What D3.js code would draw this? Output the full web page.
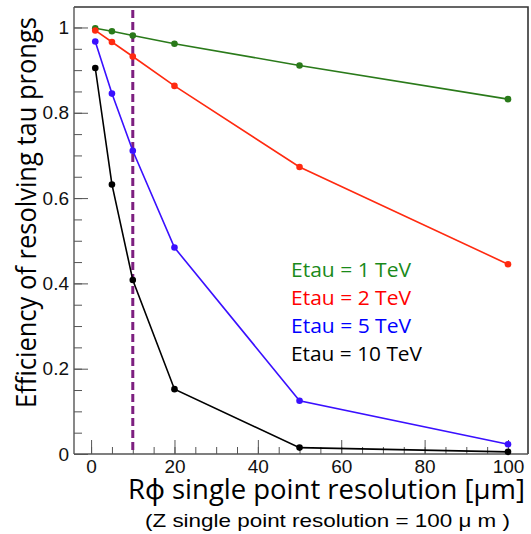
<!DOCTYPE html>
<html>
<head>
<meta charset="utf-8">
<script src="https://cdn.jsdelivr.net/npm/d3@7"></script>
<style>
  body { margin: 0; background: #fff; }
  svg { display: block; }
  .axis text { font-family: "Liberation Sans", Arial, sans-serif; font-size: 19px; fill: #111; }
  .axis path, .axis line { stroke: #555; }
</style>
</head>
<body>
<svg id="chart" width="531" height="534"></svg>
<script>
// resolution in R-phi (um)
const resolutions = [1, 5, 10, 20, 50, 100];

// efficiency per tau energy
const eff1TeV  = [0.998, 0.991, 0.981, 0.962, 0.911, 0.832];
const eff2TeV  = [0.993, 0.966, 0.932, 0.863, 0.673, 0.445];
const eff5TeV  = [0.967, 0.845, 0.711, 0.484, 0.125, 0.023];
const eff10TeV = [0.905, 0.632, 0.408, 0.152, 0.015, 0.005];

const seriesNames = ["Etau = 1 TeV", "Etau = 2 TeV", "Etau = 5 TeV", "Etau = 10 TeV"];
const lineColors  = ["#2a7a1a", "#ff2a10", "#3a10ff", "#000000"];
const textColors  = ["#1a8a1a", "#ff0000", "#0000ff", "#000000"];

const xTicks = [0, 20, 40, 60, 80, 100];
const yTicks = [0, 0.2, 0.4, 0.6, 0.8, 1];
const cutValue = 10;

const svg = d3.select("#chart");
const frame = {left: 74, right: 528, top: 7, bottom: 454};

const x = d3.scaleLinear().domain([-4.1, 104.8]).range([frame.left, frame.right]);
const y = d3.scaleLinear().domain([0, 1.048]).range([frame.bottom, frame.top]);

// frame (top + right)
svg.append("path")
    .attr("d", `M${frame.left},${frame.top}H${frame.right}V${frame.bottom}`)
    .attr("fill", "none")
    .attr("stroke", "#333")
    .attr("stroke-width", 1.6);

// minor ticks (no labels)
svg.append("g")
    .attr("class", "axis")
    .attr("transform", `translate(0,${frame.bottom})`)
    .call(d3.axisBottom(x).tickValues(d3.range(0, 101, 5)).tickSize(-7).tickSizeOuter(0))
    .call(g => { g.select(".domain").remove(); g.selectAll("text").remove(); });
svg.append("g")
    .attr("class", "axis")
    .attr("transform", `translate(${frame.left},0)`)
    .call(d3.axisLeft(y).tickValues(d3.range(0, 21).map(d => d * 0.05)).tickSize(-8).tickSizeOuter(0))
    .call(g => { g.select(".domain").remove(); g.selectAll("text").remove(); });

// major ticks + labels
svg.append("g")
    .attr("class", "axis")
    .attr("transform", `translate(0,${frame.bottom})`)
    .call(d3.axisBottom(x).tickValues(xTicks).tickSize(-14).tickSizeOuter(0).tickPadding(6))
    .call(g => g.select(".domain").attr("d", `M${frame.left},0H${frame.right}`).attr("stroke", "#444").attr("stroke-width", 1.4));
svg.append("g")
    .attr("class", "axis")
    .attr("transform", `translate(${frame.left},0)`)
    .call(d3.axisLeft(y).tickValues(yTicks).tickSize(-14).tickSizeOuter(0).tickPadding(5).tickFormat(d3.format("")))
    .call(g => g.select(".domain").attr("d", `M0,${frame.top}V${frame.bottom}`).attr("stroke", "#444").attr("stroke-width", 1.4));

// dashed cut line
svg.append("line")
    .attr("x1", x(cutValue)).attr("x2", x(cutValue))
    .attr("y1", 10).attr("y2", frame.bottom)
    .attr("stroke", "#7d1f80")
    .attr("stroke-width", 3)
    .attr("stroke-dasharray", "8,4");

// series
const allSeries = [eff1TeV, eff2TeV, eff5TeV, eff10TeV];
const line = d3.line().x((d, i) => x(resolutions[i])).y(d => y(d));

allSeries.forEach((vals, k) => {
    const g = svg.append("g");
    g.append("path")
        .attr("d", line(vals))
        .attr("fill", "none")
        .attr("stroke", lineColors[k])
        .attr("stroke-width", 1.6);
    g.selectAll("circle")
        .data(vals)
        .join("circle")
        .attr("cx", (d, i) => x(resolutions[i]))
        .attr("cy", d => y(d))
        .attr("r", 3.3)
        .attr("fill", lineColors[k]);
});

// legend
const legendFont = '"Open Sans", "Noto Sans", sans-serif';
seriesNames.forEach((name, k) => {
    svg.append("text")
        .attr("x", 291)
        .attr("y", 277 + k * 28)
        .attr("font-family", legendFont)
        .attr("font-size", 19.5)
        .attr("fill", textColors[k])
        .attr("textLength", k === 3 ? 131 : 120)
        .attr("lengthAdjust", "spacingAndGlyphs")
        .text(name);
});

// axis titles
svg.append("text")
    .attr("x", 128)
    .attr("y", 499)
    .attr("font-family", legendFont)
    .attr("font-size", 27)
    .attr("fill", "#000")
    .attr("textLength", 397)
    .attr("lengthAdjust", "spacingAndGlyphs")
    .text("Rϕ single point resolution [μm]");

svg.append("text")
    .attr("x", 145)
    .attr("y", 527)
    .attr("font-family", '"Liberation Sans", Arial, sans-serif')
    .attr("font-size", 18.5)
    .attr("fill", "#000")
    .attr("textLength", 365)
    .attr("lengthAdjust", "spacingAndGlyphs")
    .text("(Z single point resolution = 100 μ m )");

svg.append("text")
    .attr("transform", "translate(36,408) rotate(-90)")
    .attr("font-family", legendFont)
    .attr("font-size", 27)
    .attr("fill", "#000")
    .attr("textLength", 391)
    .attr("lengthAdjust", "spacingAndGlyphs")
    .text("Efficiency of resolving tau prongs");
</script>
</body>
</html>
